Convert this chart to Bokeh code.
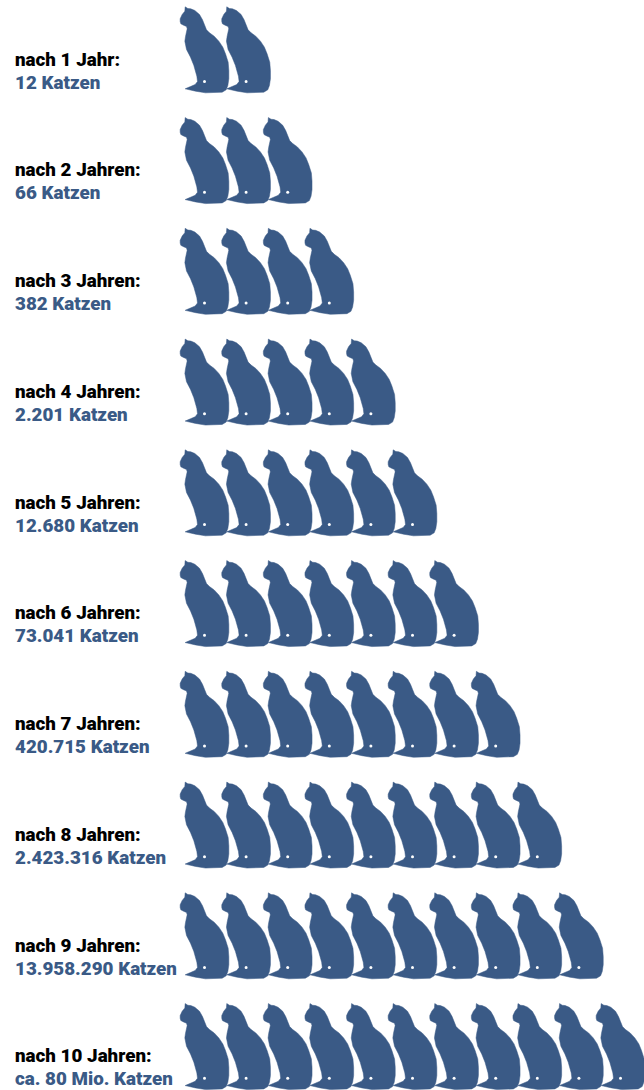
from bokeh.plotting import figure
from bokeh.embed import file_html
from bokeh.resources import INLINE
from bokeh.core.properties import value
from bokeh.models import ColumnDataSource, Range1d

# Data
years = list(range(1, 11))
head_labels = ["nach 1 Jahr:", "nach 2 Jahren:", "nach 3 Jahren:", "nach 4 Jahren:", "nach 5 Jahren:",
               "nach 6 Jahren:", "nach 7 Jahren:", "nach 8 Jahren:", "nach 9 Jahren:", "nach 10 Jahren:"]
count_labels = ["12 Katzen", "66 Katzen", "382 Katzen", "2.201 Katzen", "12.680 Katzen",
                "73.041 Katzen", "420.715 Katzen", "2.423.316 Katzen", "13.958.290 Katzen", "ca. 80 Mio. Katzen"]
cat_icons = [2, 3, 4, 5, 6, 7, 8, 9, 10, 11]

# Cat silhouette in icon-local pixels (pictogram shape)
cat_x = [29,37,46,58,72,81,87,93,102,116,130,142,150,158,160,160,157,152,140,90,60,29,45,59,66,64,55,45,33,28,30,35,33,24,16,14,14,20,28]
cat_y = [19,24,25,30,42,58,73,88,97,107,122,140,160,185,210,235,255,268,275,277,272,265,258,252,243,227,195,170,147,122,108,85,78,74,70,63,55,42,32]
cat_x = [175 + v / 3 for v in cat_x]
cat_y = [v / 3 for v in cat_y]

ROW = 110.75
COL = 41.6
BLUE = "#3a5a86"
FONT = "Roboto Black"

xs, ys, dx, dy = [], [], [], []
for r, n in enumerate(cat_icons):
    for c in range(n):
        xs.append([v + c * COL for v in cat_x])
        ys.append([v + r * ROW for v in cat_y])
        dx.append(175 + 87 / 3 + c * COL)
        dy.append(243 / 3 + r * ROW)

p = figure(width=644, height=1090, output_backend="svg", toolbar_location=None,
           x_range=Range1d(0, 644), y_range=Range1d(1090, 0), min_border=0,
           outline_line_color=None)
p.axis.visible = False
p.grid.visible = False

p.patches(xs, ys, fill_color=BLUE, line_color=BLUE, line_width=0.5)
p.scatter(dx, dy, size=3, fill_color="white", line_color=None)

src = ColumnDataSource(dict(
    x=[14.5] * len(years),
    y1=[59 + (y - 1) * ROW for y in years],
    y2=[82 + (y - 1) * ROW for y in years],
    a=head_labels, b=count_labels))
p.text("x", "y1", text="a", source=src, text_font=value(FONT), text_font_style="normal",
       text_font_size="18.8px", text_color="#000000", text_baseline="alphabetic")
p.text("x", "y2", text="b", source=src, text_font=value(FONT), text_font_style="normal",
       text_font_size="18.8px", text_color=BLUE, text_baseline="alphabetic")

html = file_html(p, INLINE).replace("</head>", "<style>html,body{margin:0;padding:0;overflow:hidden}</style></head>", 1)
open("out.html", "w").write(html)
